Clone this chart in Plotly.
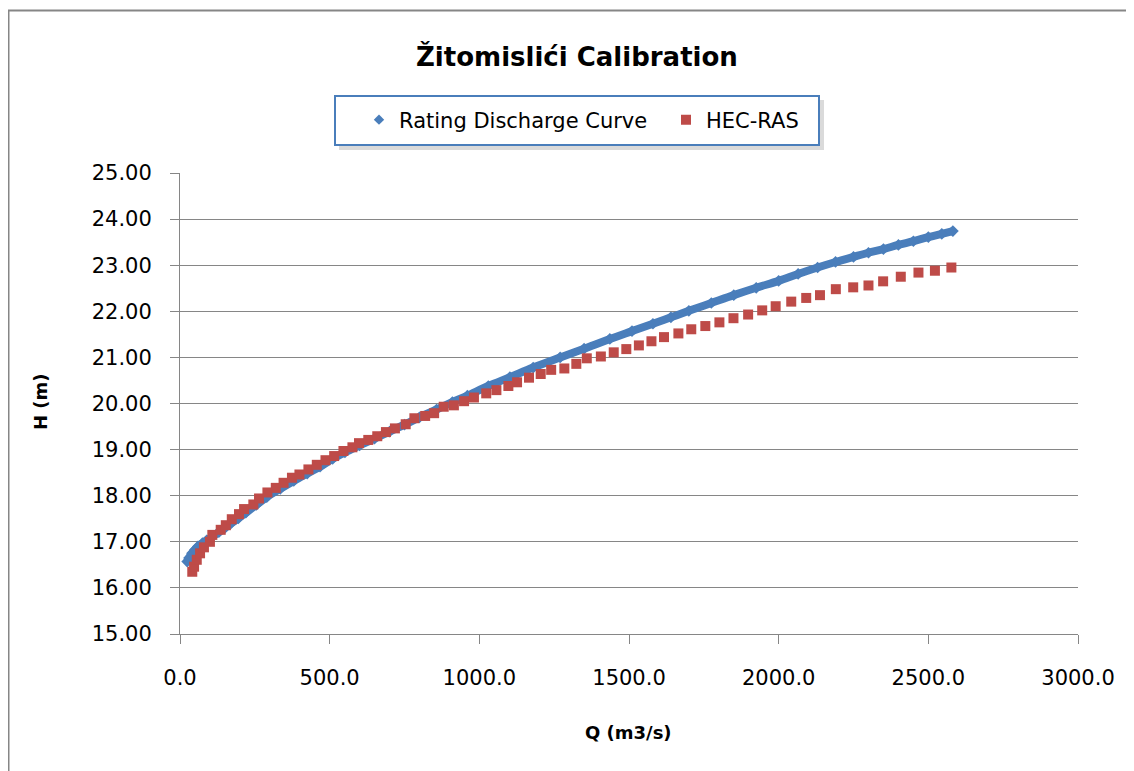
import plotly.graph_objects as go

# ---------------- data ----------------
rating_q = [24, 30, 40, 50, 60, 75, 89, 110, 130, 150, 167, 195, 220, 255, 290,
            335, 380, 425, 468, 510, 551, 600, 650, 700, 750, 800, 857, 910, 960,
            1030, 1102, 1180, 1270, 1350, 1436, 1510, 1580, 1640, 1700, 1775, 1850,
            1925, 2000, 2065, 2130, 2190, 2250, 2300, 2350, 2400, 2450, 2500, 2545, 2582]
rating_h = [16.57, 16.65, 16.75, 16.83, 16.90, 16.97, 17.03, 17.12, 17.21, 17.30, 17.38,
            17.51, 17.63, 17.80, 17.97, 18.15, 18.32, 18.48, 18.63, 18.80, 18.94, 19.09,
            19.24, 19.39, 19.54, 19.70, 19.87, 20.03, 20.17, 20.38, 20.57, 20.78, 21.00,
            21.19, 21.40, 21.57, 21.73, 21.87, 22.01, 22.18, 22.35, 22.51, 22.66, 22.81,
            22.95, 23.07, 23.18, 23.27, 23.35, 23.44, 23.52, 23.61, 23.68, 23.74]

hecras_q = [41, 47, 56, 67, 80, 100, 108, 136, 153, 173, 197, 214, 245, 264, 292,
            320, 346, 374, 399, 429, 457, 486, 515, 546, 576, 598, 629, 659, 688, 718,
            754, 783, 819, 849, 881, 915, 949, 982, 1023, 1057, 1097, 1126, 1166, 1205,
            1240, 1284, 1324, 1359, 1406, 1449, 1491, 1533, 1575, 1617, 1665, 1708, 1755,
            1802, 1849, 1898, 1945, 1990, 2042, 2092, 2138, 2191, 2249, 2300, 2349, 2408,
            2467, 2522, 2577]
hecras_h = [16.35, 16.46, 16.61, 16.75, 16.88, 17.00, 17.15, 17.26, 17.36, 17.49, 17.60,
            17.71, 17.81, 17.94, 18.07, 18.17, 18.28, 18.39, 18.46, 18.57, 18.67, 18.77,
            18.86, 18.97, 19.05, 19.14, 19.21, 19.29, 19.38, 19.46, 19.55, 19.68, 19.73,
            19.79, 19.93, 19.96, 20.05, 20.13, 20.22, 20.29, 20.38, 20.46, 20.56, 20.64,
            20.73, 20.76, 20.86, 20.98, 21.02, 21.11, 21.18, 21.26, 21.35, 21.44, 21.52,
            21.61, 21.68, 21.76, 21.85, 21.93, 22.02, 22.11, 22.21, 22.29, 22.35, 22.48,
            22.52, 22.56, 22.65, 22.75, 22.84, 22.88, 22.95]

x_ticks = [0, 500, 1000, 1500, 2000, 2500, 3000]
y_ticks = [15, 16, 17, 18, 19, 20, 21, 22, 23, 24, 25]

title_text = "Žitomislići Calibration"
x_title = "Q (m3/s)"
y_title = "H (m)"
series_names = ["Rating Discharge Curve", "HEC-RAS"]

# ---------------- style ----------------
BLUE = "#4A7EBB"
RED = "#BE4B48"
GRID = "#868686"
FONT = "DejaVu Sans"

OFF = 8  # page body margin of the html page
W, H = 1134 - OFF, 771 - OFF
L, R, T, B = 180 - OFF, 56, 173 - OFF, 137
PW, PH = W - L - R, H - T - B


def px_x(px):
    """page pixel x -> paper coordinate"""
    return (px - OFF - L) / PW


def px_y(py):
    """page pixel y -> paper coordinate"""
    return (H - B - (py - OFF)) / PH


fig = go.Figure()

fig.add_trace(go.Scatter(
    x=rating_q, y=rating_h, mode="lines+markers",
    line=dict(color=BLUE, width=8, shape="spline"),
    marker=dict(symbol="diamond", size=9, color=BLUE),
    showlegend=False, hoverinfo="skip"))
fig.add_trace(go.Scatter(
    x=[None], y=[None], mode="markers", name=series_names[0],
    marker=dict(symbol="diamond", size=8, color=BLUE)))
fig.add_trace(go.Scatter(
    x=hecras_q, y=hecras_h, mode="markers", name=series_names[1],
    marker=dict(symbol="square", size=10, color=RED)))

# legend box (shadow + frame) and chart frame
shapes = [
    dict(type="rect", xref="paper", yref="paper",
         x0=px_x(339), x1=px_x(824), y0=px_y(150), y1=px_y(100),
         fillcolor="#DADADA", line=dict(width=0), layer="above"),
    dict(type="rect", xref="paper", yref="paper",
         x0=px_x(335), x1=px_x(819), y0=px_y(145), y1=px_y(96),
         fillcolor="white", line=dict(color=BLUE, width=2), layer="above"),
    dict(type="path", xref="paper", yref="paper",
         path=f"M {px_x(8.5)},{px_y(775)} L {px_x(8.5)},{px_y(10.5)} L {px_x(1140)},{px_y(10.5)}",
         line=dict(color=GRID, width=2), layer="above"),
]

annotations = [
    dict(text=f"<b>{title_text}</b>", x=px_x(577), y=px_y(56), xref="paper", yref="paper",
         showarrow=False, font=dict(family=FONT, size=26, color="black"),
         xanchor="center", yanchor="middle"),
    dict(text=f"<b>{x_title}</b>", x=px_x(628), y=px_y(732), xref="paper", yref="paper",
         showarrow=False, font=dict(family=FONT, size=18, color="black"),
         xanchor="center", yanchor="middle"),
    dict(text=f"<b>{y_title}</b>", x=px_x(40), y=px_y(402), xref="paper", yref="paper",
         showarrow=False, textangle=-90, font=dict(family=FONT, size=18, color="black"),
         xanchor="center", yanchor="middle"),
]

fig.update_layout(
    width=W, height=H,
    margin=dict(l=L, r=R, t=T, b=B, pad=0),
    paper_bgcolor="white", plot_bgcolor="white",
    font=dict(family=FONT, color="black"),
    showlegend=True,
    legend=dict(orientation="h", x=px_x(359), y=px_y(120), xanchor="left", yanchor="middle",
                bgcolor="rgba(0,0,0,0)", borderwidth=0,
                font=dict(family=FONT, size=21, color="black"),
                entrywidth=262, entrywidthmode="pixels", itemclick=False),
    shapes=shapes,
    annotations=annotations,
    xaxis=dict(range=[0, 3000], tickvals=x_ticks, tickformat=".1f",
               showgrid=False, zeroline=False, showline=True, linecolor=GRID, linewidth=1,
               ticks="outside", ticklen=9, tickcolor=GRID, tickwidth=1,
               tickfont=dict(family=FONT, size=21, color="black"), ticklabelstandoff=16),
    yaxis=dict(range=[15, 25], tickvals=y_ticks, tickformat=".2f",
               showgrid=True, gridcolor=GRID, gridwidth=1, zeroline=False,
               showline=True, linecolor=GRID, linewidth=1,
               ticks="outside", ticklen=9, tickcolor=GRID, tickwidth=1,
               tickfont=dict(family=FONT, size=21, color="black"), ticklabelstandoff=14),
)

fig.write_html("out.html")
